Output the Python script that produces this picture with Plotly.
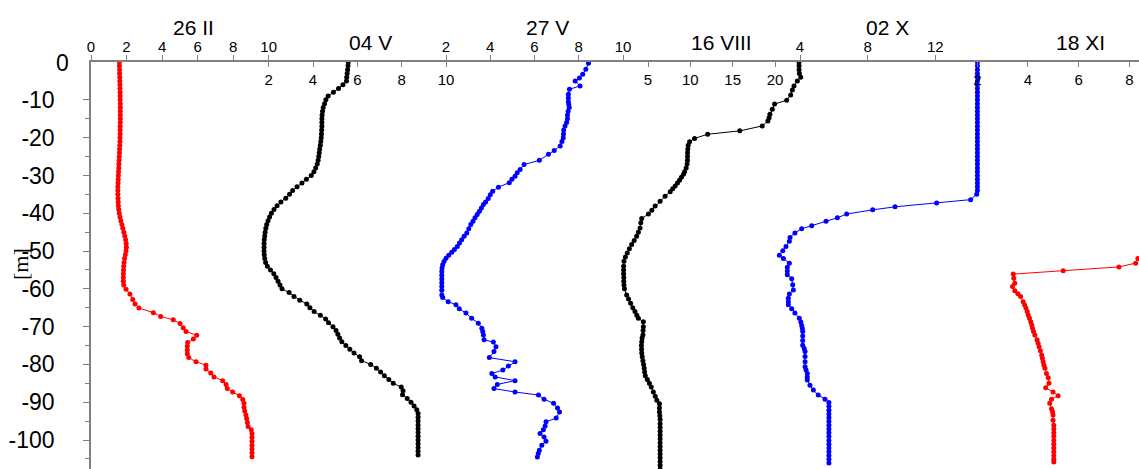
import plotly.graph_objects as go

# ---------------- data (depth in m, value on each profile's own axis) ----------------
d_26II = [0,-1,-2,-3,-4,-5,-6,-7,-8,-9,-10,-11,-12,-13,-14,-15,-16,-17,-18,-19,
          -20,-21,-22,-23,-24,-25,-26,-27,-28,-29,-30,-31,-32,-33,-34,-35,-36,-37,-38,-39,
          -40,-41,-42,-43,-44,-45,-46,-47,-48,-49,-50,-51,-52,-53,-54,-55,-56,-57,-58,-59,
          -60.1,-61.4,-62.8,-64.0,-65.1,-66.3,-67.3,-68.2,-69.2,-70.3,
          -71.3,-72.3,-73.3,-74.2,-75.2,-76.2,-77.2,-78.2,-79.3,-80.2,
          -81.2,-82.3,-83.3,-84.3,-85.3,-86.4,-87.3,-88.3,-89.3,-90.3,
          -91.3,-92.3,-93.4,-94.3,-95.4,-96.4,-97.3,-98.3,-99.3,-100.3,
          -101.4,-102.4,-103.4,-104.4]
v_26II = [1.60,1.60,1.61,1.61,1.62,1.62,1.63,1.63,1.64,1.64,
          1.64,1.65,1.65,1.65,1.65,1.65,1.65,1.64,1.64,1.64,
          1.63,1.63,1.62,1.61,1.60,1.59,1.58,1.57,1.56,1.55,
          1.54,1.53,1.52,1.51,1.51,1.51,1.52,1.53,1.54,1.56,
          1.59,1.63,1.68,1.74,1.79,1.85,1.90,1.95,1.98,1.99,
          1.97,1.93,1.89,1.86,1.84,1.83,1.82,1.82,1.82,1.84,
          1.97,2.19,2.35,2.48,2.70,3.51,3.92,4.63,5.01,5.19,
          5.35,5.95,5.76,5.44,5.42,5.42,5.42,5.50,5.91,6.47,
          6.47,6.74,6.92,7.41,7.60,7.67,7.97,8.35,8.54,8.61,
          8.61,8.65,8.72,8.76,8.80,8.84,9.02,9.06,9.06,9.06,
          9.06,9.06,9.06,9.06]

d_04V = [0,-1,-2,-3,-4,-5,-6,-7,-8,-9,-10,-11,-12,-13,-14,-15,-16,-17,-18,-19,
         -20,-21,-22,-23,-24,-25,-26,-27,-28,-29,-30,-31,-32,-33,-34,-35,-36,-37,-38,-39,
         -40,-41,-42,-43,-44,-45,-46,-47,-48,-49,-50,-51,-52,-53,-54,-55,-56,-57,-58,-59,
         -60,-61,-62,-63,-64,-65,-66,-67,-68,-69,-70,-71,-72,-73,-74,-75,-76,-77,-78,-79,
         -80,-81,-82,-83,-84,-85,-86,-87,-88,-89,-90,-91,-92,-93,-94,-95,-96,-97,-98,-99,
         -100,-101,-102,-103,-104]
v_04V = [5.59,5.58,5.56,5.54,5.52,5.51,5.35,5.15,4.92,4.68,
         4.58,4.52,4.46,4.43,4.41,4.40,4.40,4.40,4.39,4.38,
         4.37,4.35,4.33,4.30,4.28,4.26,4.23,4.19,4.12,4.04,
         3.92,3.70,3.50,3.28,3.08,2.94,2.77,2.55,2.38,2.24,
         2.12,2.04,1.97,1.91,1.87,1.84,1.82,1.80,1.79,1.79,
         1.79,1.80,1.82,1.86,1.94,2.08,2.23,2.33,2.42,2.51,
         2.60,2.92,3.14,3.40,3.72,3.86,4.05,4.33,4.57,4.70,
         4.90,5.04,5.12,5.20,5.30,5.48,5.66,5.85,6.10,6.19,
         6.60,6.86,7.05,7.22,7.42,7.62,7.98,8.06,8.04,8.25,
         8.42,8.56,8.68,8.74,8.74,8.74,8.74,8.74,8.74,8.74,
         8.74,8.74,8.74,8.74,8.74]

d_27V = [-0.3,-1.9,-3.2,-4.2,-5.0,-6.3,-7.2,-8.5,-9.5,-10.5,
         -11.2,-12.0,-13.0,-14.0,-15.0,-16.0,-16.9,-18.0,-19.0,-20.0,
         -21.0,-22.2,-23.4,-24.4,-26.0,-27.1,-28.4,-29.3,-30.2,-31.0,
         -31.9,-33.1,-34.2,-35.1,-36.1,-37.0,-37.7,-38.6,-39.5,-40.3,
         -41.2,-42.1,-43.0,-44.1,-45.2,-46.1,-47.0,-47.9,-48.8,-49.6,
         -50.3,-51.1,-51.9,-52.8,-53.6,-54.5,-55.4,-56.4,-57.4,-58.4,
         -59.4,-60.4,-61.6,-62.3,-63.4,-64.2,-65.3,-66.4,-67.8,-69.1,
         -70.4,-71.3,-72.2,-73.5,-74.1,-75.3,-76.6,-78.2,-79.3,-80.4,
         -81.5,-82.4,-83.3,-84.3,-85.3,-86.4,-87.3,-88.1,-89.2,-90.3,
         -91.5,-92.6,-94.2,-95.2,-96.3,-97.3,-98.3,-99.2,-100.3,-101.4,
         -102.7,-103.6,-104.5]
v_27V = [8.44,8.32,8.18,8.03,7.84,8.06,7.58,7.53,7.53,7.53,
         7.55,7.57,7.52,7.49,7.49,7.45,7.38,7.32,7.31,7.30,
         7.24,7.16,6.89,6.63,6.22,5.53,5.35,5.22,5.12,4.98,
         4.86,4.37,4.11,4.00,3.91,3.79,3.69,3.60,3.51,3.41,
         3.31,3.22,3.12,3.03,2.94,2.82,2.71,2.61,2.51,2.38,
         2.26,2.12,2.00,1.91,1.85,1.82,1.81,1.81,1.81,1.81,
         1.81,1.81,1.81,1.85,2.10,2.45,2.60,2.90,3.16,3.46,
         3.62,3.66,3.69,3.72,4.14,4.26,4.17,3.96,5.12,4.82,
         4.57,4.07,4.22,5.12,4.32,4.17,5.12,6.18,6.43,6.86,
         7.04,7.13,6.98,6.52,6.48,6.40,6.25,6.43,6.52,6.33,
         6.22,6.17,6.13]

d_16VIII = [0,-1,-2,-3,-4,-5,-6.3,-7.4,-8.7,-10.1,
            -11.1,-12.5,-13.8,-14.7,-15.6,-16.9,-18.2,-19.1,-20.2,-21.1,
            -22,-23,-24,-25,-26,-27,-28,-29,-29.7,-30.5,
            -31.3,-32,-32.8,-33.5,-34.3,-35.5,-36.8,-38.1,-39.2,-40.2,
            -41.4,-42.5,-43.9,-45,-46.1,-47.2,-48.3,-49.4,-50.5,-51.6,
            -52.7,-54,-55,-56,-57,-58,-59,-60,-61.6,-62.7,
            -63.8,-65,-66,-67,-67.8,-68.7,-70,-71,-72.2,-73,
            -74,-75,-76,-77,-78,-79,-80,-81,-82,-83,
            -84,-85,-86,-87.3,-88.4,-89.5,-90.4,-91.5,-92.6,-93.6,
            -94.6,-95.7,-96.7,-97.7,-98.7,-99.7,-100.7,-101.7,-102.7,-103.7,
            -104.7,-105.7,-106.7,-107.7,-108.7]
v_16VIII = [22.84,22.84,22.84,22.88,23.04,22.64,22.24,22.05,21.85,21.38,
            19.95,19.68,19.40,19.30,19.16,18.49,15.84,12.04,10.50,9.91,
            9.75,9.70,9.67,9.67,9.66,9.62,9.51,9.32,9.19,8.95,
            8.72,8.48,8.21,7.92,7.62,7.02,6.43,5.84,5.45,5.05,
            4.26,4.15,4.06,3.86,3.66,3.37,3.07,2.80,2.55,2.33,
            2.16,2.12,2.12,2.12,2.14,2.14,2.16,2.22,2.48,2.70,
            2.95,3.20,3.46,3.68,3.86,4.45,4.45,4.42,4.40,4.30,
            4.26,4.22,4.24,4.26,4.32,4.40,4.48,4.55,4.60,4.68,
            4.92,5.16,5.38,5.63,5.85,6.04,6.35,6.35,6.35,6.40,
            6.43,6.43,6.43,6.43,6.43,6.43,6.43,6.43,6.43,6.43,
            6.43,6.43,6.43,6.43,6.43]

d_02X = [0,-1,-2,-3,-4,-5,-6,-7,-8,-9,-10,-11,-12,-13,-14,-15,-16,-17,-18,-19,
         -20,-21,-22,-23,-24,-25,-26,-27,-28,-29,-30,-31,-32,-33,-34,-35,
         -36.4,-37.3,-38.3,-39.1,-40.2,-41.2,-42.1,-43.3,-44.1,-45.2,
         -46.4,-47.4,-48.8,-49.9,-51.1,-52,-53.2,-54.3,-55.3,-56.3,
         -57.3,-58.9,-60.3,-61.4,-62.5,-63.4,-64.2,-65.3,-66.4,-67.8,
         -68.8,-69.7,-70.5,-71.3,-72.5,-73.7,-74.9,-75.8,-76.6,-77.9,
         -79.3,-80.6,-81.5,-82.4,-83.3,-84.1,-85.5,-86.8,-88.1,-89.2,
         -90.1,-91.1,-92.1,-93.1,-94.1,-95.1,-96.1,-97.1,-98.1,-99.1,
         -100.1,-101.1,-102.1,-103.1,-104.1,-105.1,-106.1]
v_02X = [14.49,14.49,14.49,14.49,14.49,14.49,14.49,14.49,14.49,14.49,
         14.49,14.49,14.49,14.49,14.49,14.49,14.49,14.49,14.49,14.49,
         14.49,14.49,14.49,14.49,14.49,14.49,14.49,14.49,14.49,14.49,
         14.49,14.49,14.49,14.49,14.49,14.45,
         14.09,12.08,9.62,8.30,6.76,6.21,5.54,4.69,4.10,3.70,
         3.41,3.37,3.17,2.98,2.78,3.02,3.37,3.25,3.25,3.25,
         3.51,3.57,3.61,3.37,3.31,3.31,3.31,3.51,3.70,3.96,
         4.05,4.10,4.14,4.16,4.16,4.16,4.16,4.25,4.30,4.30,
         4.30,4.30,4.36,4.43,4.43,4.43,4.59,4.79,5.08,5.48,
         5.71,5.71,5.71,5.71,5.71,5.71,5.71,5.71,5.71,5.71,
         5.71,5.71,5.71,5.71,5.71,5.71,5.71]

d_18XI = [-51,-52,-53.2,-54.2,-55.2,-56.1,-57.2,-58.5,-59.4,-60.5,
          -61.3,-62,-63.4,-64.3,-65.1,-66,-66.9,-67.8,-68.7,-69.6,
          -70.4,-71.3,-72.2,-73.5,-74.4,-75.3,-76.4,-77.5,-78.4,-79.3,
          -80.2,-81,-82.4,-83.5,-85,-86.2,-87.3,-88.3,-89.2,-90.3,
          -91.7,-92.5,-93.4,-94.8,-96.1,-97.1,-98.1,-99.1,-100.1,-101.1,
          -102.1,-103.1,-104.1,-105.1,-105.8]
v_18XI = [9.0,8.34,8.25,7.59,5.39,3.42,3.44,3.48,3.39,3.48,
          3.60,3.71,3.81,3.87,3.92,3.97,4.01,4.06,4.11,4.15,
          4.18,4.22,4.27,4.36,4.40,4.44,4.49,4.54,4.57,4.60,
          4.63,4.67,4.73,4.80,4.83,4.70,4.99,5.19,4.93,4.86,
          4.93,4.97,4.99,4.99,5.02,5.02,5.02,5.02,5.02,5.02,
          5.02,5.02,5.02,5.02,5.02]

names = ["26 II", "04 V", "27 V", "16 VIII", "02 X", "18 XI"]
colors = ["#ff0000", "#000000", "#0000ff", "#000000", "#0000ff", "#ff0000"]
tick_sets = [[0, 2, 4, 6, 8, 10], [2, 4, 6, 8, 10], [2, 4, 6, 8, 10],
             [5, 10, 15, 20], [4, 8, 12], [2, 4, 6, 8]]
y_ticks = [0, -10, -20, -30, -40, -50, -60, -70, -80, -90, -100]
y_minor = [-5, -15, -25, -35, -45, -55, -65, -75, -85, -95, -105]

series = [(d_26II, v_26II), (d_04V, v_04V), (d_27V, v_27V),
          (d_16VIII, v_16VIII), (d_02X, v_02X), (d_18XI, v_18XI)]
for d, v in series:
    assert len(d) == len(v), (len(d), len(v))

# ---------------- layout geometry ----------------
W, H = 1139, 469
X0, X1 = 91, 1139          # plot area in px
Y0, Y1 = 62, 469
# axis calibration: (value_a, px_a, value_b, px_b)
calib = [(0, 91, 10, 268.7), (2, 268.7, 10, 446), (2, 446, 10, 623),
         (5, 648, 20, 775), (4, 800, 12, 935.3), (2, 977.3, 8, 1129.3)]
label_above = [True, False, True, False, True, False]


def axis_range(va, pa, vb, pb):
    s = (pb - pa) / (vb - va)
    return [va - (pa - X0) / s, va + (X1 - pa) / s]


FONT = "Arial, 'Liberation Sans', sans-serif"
GRAY = "#808080"

fig = go.Figure()
for i, ((d, v), c) in enumerate(zip(series, colors)):
    fig.add_trace(go.Scatter(
        x=v, y=d, mode="lines+markers", xaxis="x" if i == 0 else f"x{i+1}", yaxis="y",
        line=dict(color=c, width=1), marker=dict(color=c, size=5),
        showlegend=False, name=names[i]))

layout = dict(
    width=W, height=H,
    margin=dict(l=X0, r=W - X1, t=Y0, b=H - Y1, pad=0),
    paper_bgcolor="white", plot_bgcolor="white",
    showlegend=False,
    font=dict(family=FONT, color="black"),
)
for i in range(6):
    key = "xaxis" if i == 0 else f"xaxis{i+1}"
    ax = dict(
        side="top", anchor="y", domain=[0, 1],
        range=axis_range(*calib[i]),
        showline=True, linecolor=GRAY, linewidth=1.5,
        showgrid=False, zeroline=False,
        tickmode="array", tickvals=tick_sets[i],
        ticktext=[str(t) for t in tick_sets[i]],
        ticklen=5, tickwidth=1.3, tickcolor=GRAY,
        tickfont=dict(family=FONT, size=15, color="black"),
        automargin=False, fixedrange=True,
    )
    if label_above[i]:
        ax.update(ticks="outside", ticklabelstandoff=-3)
    else:
        ax.update(ticks="inside", ticklabelposition="inside", ticklabelstandoff=8)
    if i > 0:
        ax["overlaying"] = "x"
    layout[key] = ax

# the top "0" label is drawn as an annotation (plotly hides it next to inside labels)
y_text = ["" if t == 0 else str(t) for t in y_ticks]
layout["yaxis"] = dict(
    range=[-(Y1 - Y0) / 3.78, 0.02], domain=[0, 1],
    showline=True, linecolor=GRAY, linewidth=1.5,
    showgrid=False, zeroline=False,
    tickmode="array", tickvals=y_ticks, ticktext=y_text,
    ticks="outside", ticklen=6, tickwidth=1.3, tickcolor=GRAY,
    tickfont=dict(family=FONT, size=23, color="black"),
    ticklabelstandoff=24,
    minor=dict(tickvals=y_minor, ticks="outside", ticklen=4, tickwidth=1.3, tickcolor=GRAY),
    automargin=False, fixedrange=True,
)
fig.update_layout(**layout)


def px_to_paper(px, py):
    return (px - X0) / (X1 - X0), (Y1 - py) / (Y1 - Y0)


title_pos = [(193, 27), (370, 43), (547, 27), (721, 43), (887, 27), (1080, 42)]
for name, (px, py) in zip(names, title_pos):
    xp, yp = px_to_paper(px, py)
    fig.add_annotation(text=name, x=xp, y=yp, xref="paper", yref="paper",
                       xanchor="center", yanchor="middle", showarrow=False,
                       font=dict(family=FONT, size=21, color="black"))

xp, yp = px_to_paper(71, 63)
fig.add_annotation(text=str(y_ticks[0]), x=xp, y=yp, xref="paper", yref="paper",
                   xanchor="right", yanchor="middle", showarrow=False,
                   font=dict(family=FONT, size=23, color="black"))

xp, yp = px_to_paper(20, 264)
fig.add_annotation(text="[m]", x=xp, y=yp, xref="paper", yref="paper",
                   xanchor="center", yanchor="middle", showarrow=False, textangle=-90,
                   font=dict(family="'Times New Roman', 'Liberation Serif', serif", size=22, color="black"))

fig.write_html("out.html", config={"displayModeBar": False},
               post_script="document.body.style.margin='0px';document.body.style.overflow='hidden';")
